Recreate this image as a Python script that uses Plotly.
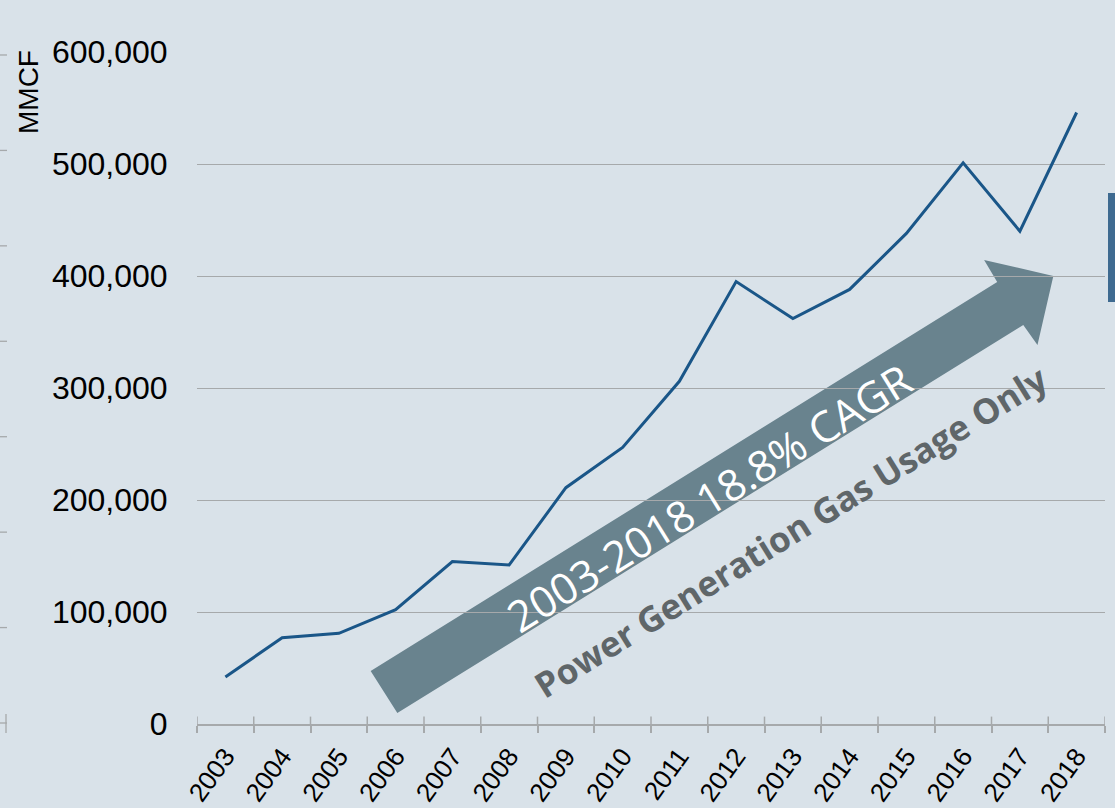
import plotly.graph_objects as go

years = [str(y) for y in range(2003, 2019)]
usage_mmcf = [42000, 77000, 81000, 102000, 145000, 142000, 211000, 247000,
              306000, 395000, 362000, 388000, 438000, 501000, 440000, 546000]
y_ticks = [0, 100000, 200000, 300000, 400000, 500000, 600000]
y_tick_text = ["0", "100,000", "200,000", "300,000", "400,000", "500,000", "600,000"]
cagr_text = "2003-2018 18.8% CAGR"
note_text = "Power Generation Gas Usage Only"
y_title = "MMCF"

BG = "#d9e2e9"
GRID = "#a6a9ab"
LINE = "#1a5688"
ARROW = "#69838e"

fig = go.Figure()
fig.add_trace(go.Scatter(x=years, y=usage_mmcf, mode="lines",
                         line=dict(color=LINE, width=3), hoverinfo="skip",
                         showlegend=False))

# big trend arrow (category serial numbers on x, MMCF on y)
arrow_pts = [(3.03, 9800), (2.56, 47300), (13.60, 394600), (13.37, 414300),
             (14.59, 400000), (14.31, 338400), (14.06, 356300)]
path = "M " + " L ".join(f"{x},{y}" for x, y in arrow_pts) + " Z"

shapes = [dict(type="path", path=path, xref="x", yref="y",
               fillcolor=ARROW, line=dict(width=0), layer="below")]

# inner half of x-axis tick marks (crossing the axis line)
for i in range(len(years) + 1):
    shapes.append(dict(type="line", xref="x", yref="paper",
                       x0=i - 0.5, x1=i - 0.5, y0=0, y1=0.011,
                       line=dict(color=GRID, width=1.5)))

# remnants of a cropped neighbouring axis at the far left
L, W, H = 197, 908, 672
for k in range(8):
    py = 723 - k * 95.43
    yp = (724 - py) / H
    shapes.append(dict(type="line", xref="paper", yref="paper",
                       x0=(0 - L) / W, x1=(7 - L) / W, y0=yp, y1=yp,
                       line=dict(color=GRID, width=1.3)))
shapes.append(dict(type="line", xref="paper", yref="paper",
                   x0=(6 - L) / W, x1=(6 - L) / W,
                   y0=(724 - 733) / H, y1=(724 - 714) / H,
                   line=dict(color=GRID, width=1.3)))
# blue bar at right edge
shapes.append(dict(type="rect", xref="paper", yref="paper",
                   x0=(1108 - L) / W, x1=(1116 - L) / W,
                   y0=(724 - 302) / H, y1=(724 - 193) / H,
                   fillcolor="#3e6a90", line=dict(width=0)))

annotations = [
    dict(text=cagr_text, x=8.52, y=202500, xref="x", yref="y",
         showarrow=False, textangle=-31.8, xanchor="center", yanchor="middle",
         font=dict(family="Open Sans", size=43, color="white")),
    dict(text=f"<b>{note_text}</b>", x=9.95, y=172000, xref="x", yref="y",
         showarrow=False, textangle=-31.8, xanchor="center", yanchor="middle",
         font=dict(family="Open Sans", size=35, color="#5f6669")),
    dict(text=y_title, x=(28 - L) / W, y=(724 - 92) / H, xref="paper", yref="paper",
         showarrow=False, textangle=-90, xanchor="center", yanchor="middle",
         font=dict(family="Liberation Sans, Arial", size=28, color="black")),
]

fig.update_layout(
    width=1115, height=808,
    margin=dict(l=197, r=10, t=52, b=84),
    paper_bgcolor=BG, plot_bgcolor=BG,
    font=dict(family="Liberation Sans, Arial", color="black"),
    shapes=shapes, annotations=annotations,
    showlegend=False,
)
fig.update_xaxes(type="category", categoryorder="array", categoryarray=years,
                 range=[-0.5, len(years) - 0.5], automargin=False,
                 showgrid=False, showline=True, linecolor=GRID, linewidth=1.5,
                 ticks="outside", tickson="boundaries", ticklen=7,
                 tickcolor=GRID, tickwidth=1.5, ticklabelstandoff=5,
                 tickangle=-54, tickfont=dict(size=26, color="black"))
fig.update_yaxes(range=[0, 600000], tickvals=y_ticks, ticktext=y_tick_text,
                 automargin=False,
                 showgrid=True, gridcolor=GRID, gridwidth=1.3,
                 zeroline=False, showline=False,
                 ticks="outside", ticklen=22, tickcolor="rgba(0,0,0,0)",
                 tickfont=dict(size=32, color="black"))

fig.write_html("out.html", config={"displayModeBar": False},
               post_script="document.body.style.margin='0px';"
                           "document.body.style.background='" + BG + "';")
